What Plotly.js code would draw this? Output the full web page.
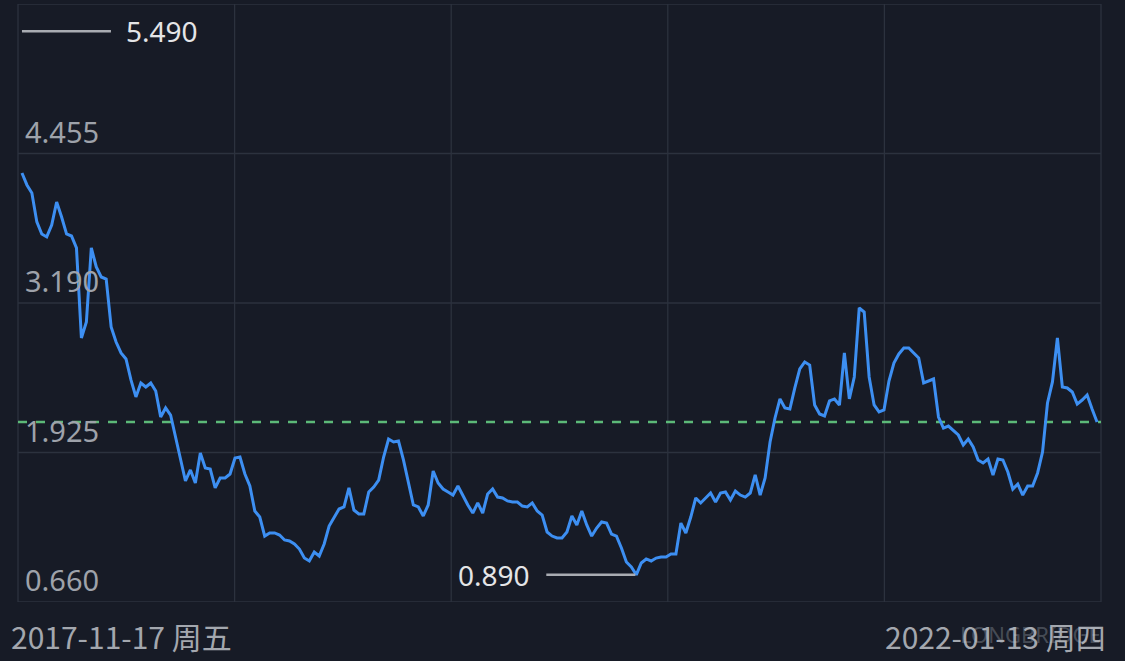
<!DOCTYPE html>
<html>
<head>
<meta charset="utf-8">
<script src="https://cdn.plot.ly/plotly-3.0.1.min.js"></script>
<style>
html,body{margin:0;padding:0;background:#171b26;}
#chart{width:1125px;height:661px;}
</style>
</head>
<body>
<div id="chart"></div>
<script>
// Weekly values, 2017-11-17 to 2022-01-13
const values = [
4.290,4.189,4.121,3.876,3.774,3.749,3.850,4.045,3.918,3.774,
3.757,3.656,2.894,3.029,3.656,3.495,3.410,3.393,2.987,2.860,
2.767,2.716,2.539,2.395,2.513,2.479,2.513,2.445,2.225,2.302,
2.242,2.048,1.862,1.684,1.777,1.667,1.921,1.794,1.785,1.625,
1.709,1.709,1.743,1.879,1.887,1.743,1.642,1.430,1.379,1.218,
1.244,1.244,1.227,1.185,1.176,1.151,1.108,1.032,1.007,1.083,
1.049,1.151,1.303,1.379,1.447,1.464,1.625,1.438,1.405,1.405,
1.591,1.633,1.692,1.887,2.039,2.014,2.022,1.862,1.675,1.481,
1.464,1.388,1.481,1.768,1.667,1.616,1.591,1.565,1.642,1.557,
1.481,1.413,1.498,1.413,1.574,1.616,1.548,1.540,1.515,1.506,
1.506,1.472,1.464,1.498,1.430,1.396,1.252,1.218,1.202,1.202,
1.252,1.388,1.312,1.430,1.312,1.218,1.286,1.337,1.328,1.235,
1.218,1.117,0.998,0.956,0.890,0.990,1.024,1.007,1.032,1.041,
1.041,1.066,1.066,1.328,1.244,1.379,1.540,1.498,1.540,1.582,
1.506,1.582,1.591,1.523,1.599,1.565,1.548,1.582,1.735,1.565,
1.709,2.014,2.217,2.378,2.302,2.293,2.471,2.632,2.691,2.665,
2.327,2.251,2.234,2.361,2.378,2.327,2.767,2.378,2.564,3.148,
3.114,2.564,2.327,2.268,2.285,2.530,2.682,2.759,2.809,2.809,
2.767,2.725,2.513,2.530,2.547,2.225,2.132,2.149,2.115,2.073,
1.989,2.039,1.972,1.862,1.836,1.870,1.735,1.870,1.862,1.760,
1.616,1.658,1.565,1.642,1.642,1.752,1.929,2.344,2.522,2.894,
2.479,2.471,2.437,2.335,2.369,2.412,2.293,2.183
];
const xLabels = ["2017-11-17 周五", "2022-01-13 周四"];
const yTicks = [0.660, 1.925, 3.190, 4.455, 5.720];
const yTickLabels = ["0.660", "1.925", "3.190", "4.455"];
const rangeHigh = 5.490;
const rangeHighIndex = 0;
const rangeLow = 0.890;

const idx = values.map((v, i) => i);
const lastValue = values[values.length - 1];
const lowIndex = values.indexOf(Math.min(...values));
const n = values.length;

const gridColor = '#2c323e';
const shapes = [];
yTicks.forEach(v => shapes.push({type:'line', xref:'paper', yref:'y', x0:0, x1:1, y0:v, y1:v,
  line:{color:gridColor, width:1.3}, layer:'below'}));
[0,0.2,0.4,0.6,0.8,1].forEach(p => shapes.push({type:'line', xref:'paper', yref:'paper', x0:p, x1:p, y0:0, y1:1,
  line:{color:gridColor, width:1.3}, layer:'below'}));
shapes.push({type:'line', xref:'paper', yref:'y', x0:0, x1:1, y0:lastValue, y1:lastValue,
  line:{color:'#5cb978', width:2.4, dash:'dash'}, layer:'between'});
shapes.push({type:'line', xref:'x', yref:'y', xsizemode:'pixel', xanchor:rangeHighIndex, x0:0, x1:89,
  y0:rangeHigh, y1:rangeHigh, line:{color:'#a9acb2', width:2.5}});
shapes.push({type:'line', xref:'x', yref:'y', xsizemode:'pixel', xanchor:lowIndex, x0:-90, x1:-1,
  y0:rangeLow, y1:rangeLow, line:{color:'#a9acb2', width:2.5}});

const numFont = 'Noto Sans, Roboto, sans-serif';
const annotations = [];
yTickLabels.forEach((t, i) => annotations.push({xref:'paper', yref:'y', x:0, y:yTicks[i], xanchor:'left', yanchor:'bottom',
  xshift:5, yshift:1, text:t, showarrow:false, font:{family:numFont, size:29, color:'#9ea2aa'}}));
annotations.push({xref:'x', yref:'y', x:rangeHighIndex, y:rangeHigh, xanchor:'left', yanchor:'middle', xshift:102,
  text:rangeHigh.toFixed(3), showarrow:false, font:{family:numFont, size:28, color:'#e4e5e7'}});
annotations.push({xref:'x', yref:'y', x:lowIndex, y:rangeLow, xanchor:'right', yanchor:'middle', xshift:-104,
  text:rangeLow.toFixed(3), showarrow:false, font:{family:numFont, size:28, color:'#e4e5e7'}});
annotations.push({xref:'paper', yref:'paper', x:0, y:0, xanchor:'left', yanchor:'middle', xshift:-9, yshift:-34,
  text:xLabels[0], showarrow:false, font:{family:'Noto Sans CJK SC, Noto Sans, sans-serif', size:30, color:'#a3a7ae'}});
annotations.push({xref:'paper', yref:'paper', x:1, y:0, xanchor:'right', yanchor:'middle', xshift:7, yshift:-34,
  text:xLabels[1], showarrow:false, font:{family:'Noto Sans CJK SC, Noto Sans, sans-serif', size:30, color:'#a3a7ae'}});
annotations.push({xref:'paper', yref:'paper', x:1, y:0, xanchor:'right', yanchor:'middle', xshift:2, yshift:-32,
  text:'LONGBRIDGE', showarrow:false, font:{family:'Noto Sans, sans-serif', size:22, color:'rgba(190,195,205,0.3)'}});

const trace = {x: idx, y: values, type:'scatter', mode:'lines',
  line:{color:'#3d8ff2', width:3}, hoverinfo:'skip'};

const layout = {
  width:1125, height:661,
  margin:{l:18, r:24, t:4, b:59},
  paper_bgcolor:'#171b26', plot_bgcolor:'#171b26',
  showlegend:false,
  xaxis:{range:[-0.8, n - 1 + 0.8], showgrid:false, zeroline:false, showticklabels:false, showline:false, fixedrange:true},
  yaxis:{range:[yTicks[0], yTicks[yTicks.length-1]], showgrid:false, zeroline:false, showticklabels:false, showline:false, fixedrange:true},
  shapes: shapes,
  annotations: annotations
};
Plotly.newPlot('chart', [trace], layout, {displayModeBar:false, staticPlot:true});
</script>
</body>
</html>
